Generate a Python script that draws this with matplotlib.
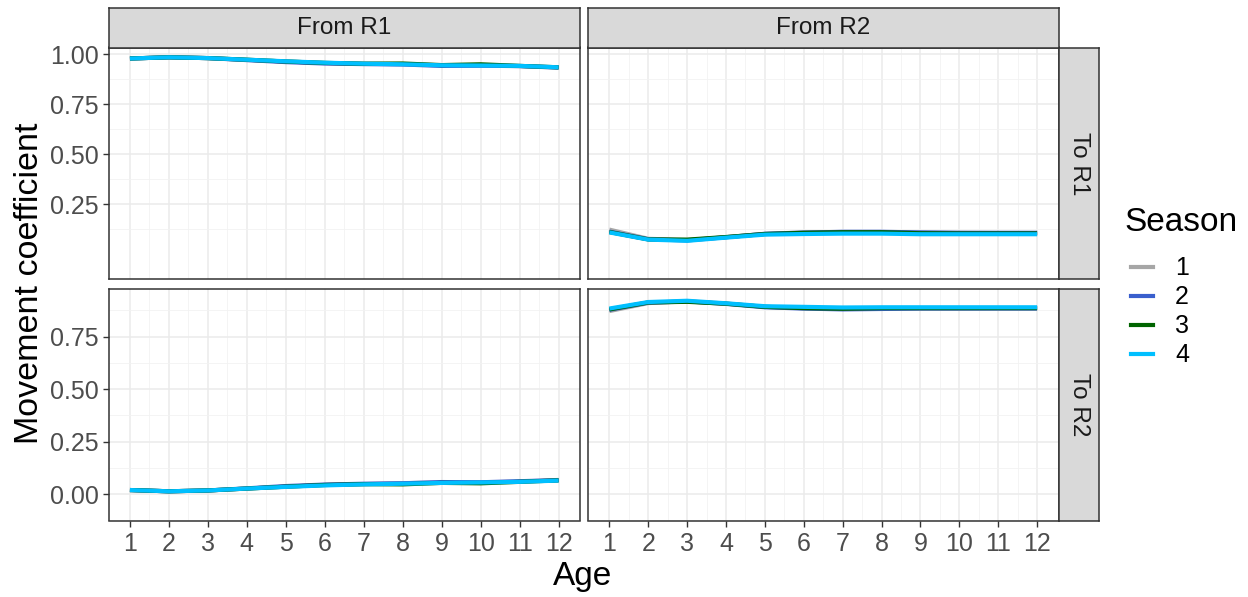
import numpy as np
import matplotlib
matplotlib.use("Agg")
import matplotlib.pyplot as plt
from matplotlib.lines import Line2D

plt.rcParams['font.family'] = ['Liberation Sans', 'DejaVu Sans']

ages = list(range(1, 13))
seasons = ["1", "2", "3", "4"]
season_colors = ["#A6A6A6", "#3A5FCD", "#006400", "#00BFFF"]
col_labels = ["From R1", "From R2"]
row_labels = ["To R1", "To R2"]

# From R1 -> To R1
r1_r1 = [
    [0.978, 0.984, 0.980, 0.971, 0.963, 0.955, 0.952, 0.950, 0.944, 0.944, 0.940, 0.932],
    [0.978, 0.984, 0.980, 0.970, 0.960, 0.953, 0.950, 0.948, 0.941, 0.942, 0.940, 0.933],
    [0.978, 0.984, 0.980, 0.972, 0.963, 0.956, 0.952, 0.953, 0.945, 0.949, 0.941, 0.934],
    [0.978, 0.984, 0.980, 0.972, 0.964, 0.957, 0.952, 0.949, 0.944, 0.943, 0.941, 0.934],
]
# From R1 -> To R2
r1_r2 = [
    [0.020, 0.014, 0.018, 0.027, 0.036, 0.045, 0.048, 0.053, 0.055, 0.056, 0.060, 0.068],
    [0.020, 0.014, 0.018, 0.028, 0.039, 0.046, 0.050, 0.052, 0.058, 0.057, 0.062, 0.067],
    [0.020, 0.014, 0.018, 0.027, 0.036, 0.044, 0.048, 0.047, 0.054, 0.052, 0.059, 0.066],
    [0.020, 0.014, 0.018, 0.027, 0.035, 0.042, 0.047, 0.050, 0.054, 0.056, 0.059, 0.065],
]
# From R2 -> To R1
r2_r1 = [
    [0.122, 0.076, 0.070, 0.084, 0.101, 0.108, 0.110, 0.110, 0.107, 0.106, 0.105, 0.105],
    [0.112, 0.074, 0.068, 0.084, 0.101, 0.107, 0.111, 0.111, 0.108, 0.106, 0.106, 0.106],
    [0.110, 0.073, 0.072, 0.085, 0.100, 0.106, 0.109, 0.109, 0.104, 0.103, 0.103, 0.103],
    [0.108, 0.072, 0.066, 0.082, 0.097, 0.100, 0.102, 0.102, 0.099, 0.099, 0.099, 0.099],
]
# From R2 -> To R2
r2_r2 = [
    [0.872, 0.910, 0.918, 0.908, 0.892, 0.885, 0.883, 0.884, 0.884, 0.884, 0.885, 0.885],
    [0.878, 0.912, 0.918, 0.906, 0.890, 0.884, 0.880, 0.882, 0.884, 0.884, 0.884, 0.884],
    [0.880, 0.913, 0.916, 0.907, 0.892, 0.886, 0.883, 0.886, 0.886, 0.886, 0.886, 0.886],
    [0.884, 0.915, 0.921, 0.909, 0.895, 0.892, 0.889, 0.890, 0.890, 0.890, 0.890, 0.890],
]

panels = {(0, 0): r1_r1, (0, 1): r2_r1, (1, 0): r1_r2, (1, 1): r2_r2}
row_ylim = [(0.021, 1.033), (-0.035, 0.977)]
row_ticks = [[0.25, 0.50, 0.75, 1.00], [0.00, 0.25, 0.50, 0.75]]

W, H = 1248, 597
fig = plt.figure(figsize=(W / 100, H / 100), dpi=100)


def px(x0, y0, x1, y1):
    # pixel box (top-left origin) -> figure fraction
    return [x0 / W, 1 - y1 / H, (x1 - x0) / W, (y1 - y0) / H]


col_x = [(108.5, 580), (588, 1058.5)]
row_y = [(47.5, 279), (289, 520.5)]
border = "#333333"

for (r, c), data in panels.items():
    x0, x1 = col_x[c]
    y0, y1 = row_y[r]
    ax = fig.add_axes(px(x0, y0, x1, y1))
    ax.set_xlim(0.45, 12.55)
    ax.set_ylim(*row_ylim[r])
    ax.set_xticks(ages)
    ax.set_xticks(np.arange(1.5, 12, 1), minor=True)
    ax.set_yticks(row_ticks[r])
    ax.set_yticks(np.arange(-0.125, 1.1, 0.25), minor=True)
    ax.grid(True, which="major", color="#EBEBEB", linewidth=1.1)
    ax.grid(True, which="minor", color="#F2F2F2", linewidth=0.6)
    ax.set_axisbelow(True)
    for s in range(4):
        ax.plot(ages, data[s], color=season_colors[s], linewidth=3.0,
                solid_capstyle="butt", zorder=3)
    for sp in ax.spines.values():
        sp.set_color(border)
        sp.set_linewidth(1.1)
    ax.tick_params(which="minor", length=0)
    ax.tick_params(which="major", length=4, width=1, color=border,
                   labelsize=18, labelcolor="#4D4D4D")
    if r == 0:
        ax.tick_params(axis="x", which="major", length=0, labelbottom=False)
    if c == 1:
        ax.tick_params(axis="y", which="major", length=0, labelleft=False)
    else:
        ax.set_yticklabels([f"{v:.2f}" for v in row_ticks[r]])
    ax.tick_params(axis="x", pad=4)
    ax.tick_params(axis="y", pad=3)

# column strips
for c, lab in enumerate(col_labels):
    x0, x1 = col_x[c]
    sax = fig.add_axes(px(x0, 8, x1, 47.5))
    sax.set_xticks([]); sax.set_yticks([])
    sax.set_facecolor("#D9D9D9")
    for sp in sax.spines.values():
        sp.set_color(border); sp.set_linewidth(1.1)
    sax.text(0.5, 0.5, lab, ha="center", va="center", fontsize=17.5,
             color="#1A1A1A", transform=sax.transAxes)

# row strips
for r, lab in enumerate(row_labels):
    y0, y1 = row_y[r]
    sax = fig.add_axes(px(1058.5, y0, 1099, y1))
    sax.set_xticks([]); sax.set_yticks([])
    sax.set_facecolor("#D9D9D9")
    for sp in sax.spines.values():
        sp.set_color(border); sp.set_linewidth(1.1)
    sax.text(0.5, 0.5, lab, ha="center", va="center", fontsize=17.5,
             color="#1A1A1A", rotation=-90, transform=sax.transAxes)

fig.text(583 / W, 1 - 577 / H, "Age", ha="center", va="center", fontsize=24)
fig.text(30 / W, 1 - 283 / H, "Movement coefficient", ha="center",
         va="center", rotation=90, fontsize=24.5)

# legend: title placed by hand, entries below
fig.text(1124 / W, 1 - 222 / H, "Season", ha="left", va="center", fontsize=24)
handles = [Line2D([0], [0], color=col, linewidth=3) for col in season_colors]
fig.legend(handles, seasons, loc="upper left",
           bbox_to_anchor=(1108 / W, 1 - 234 / H), frameon=False,
           fontsize=18, handlelength=0.9,
           handletextpad=0.88, labelspacing=0.2)

fig.savefig("out.png", dpi=100)
